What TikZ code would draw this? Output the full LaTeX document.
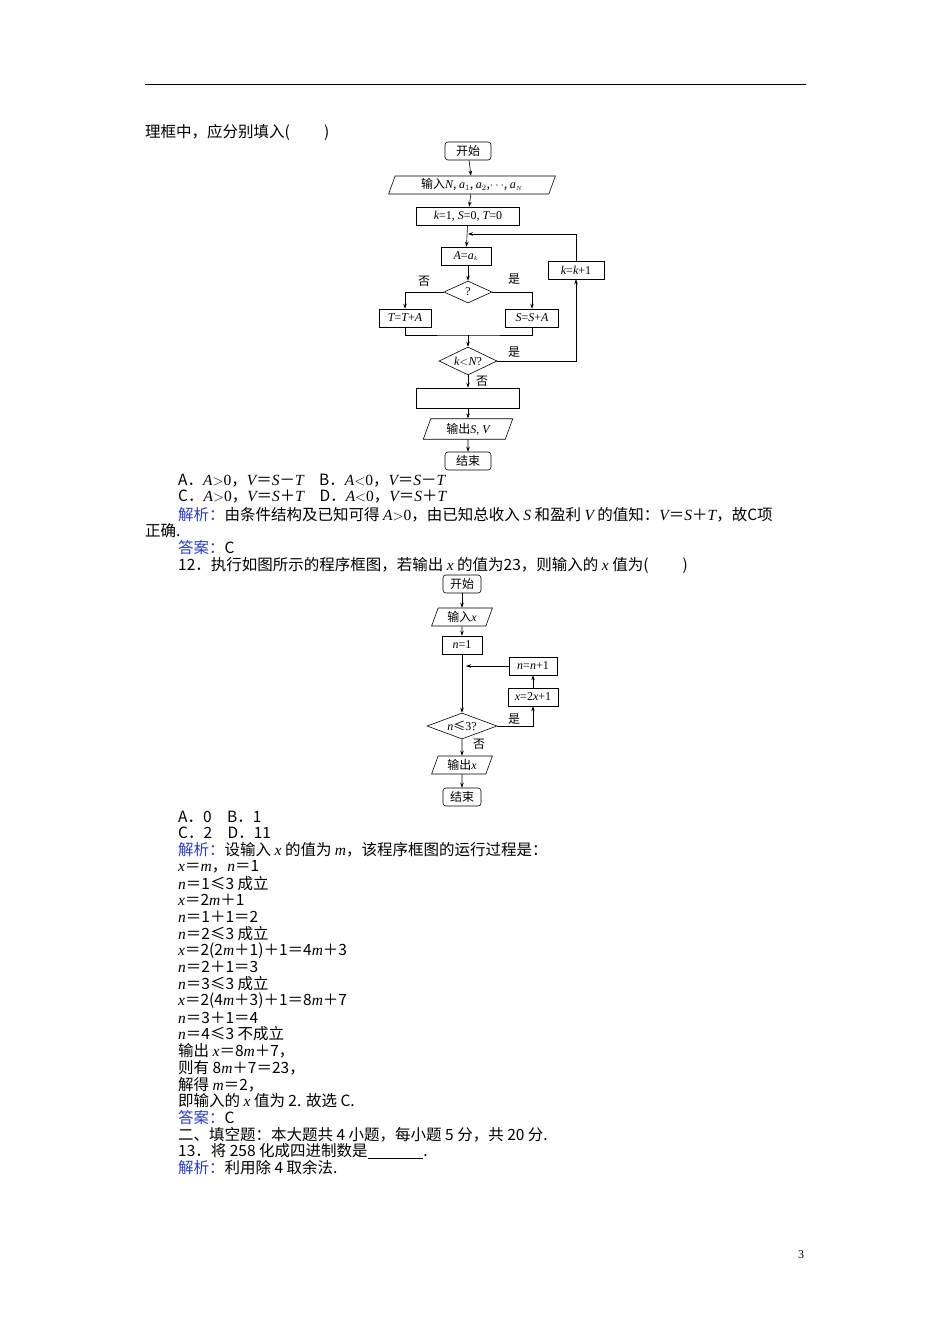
\documentclass[tikz,border=0pt]{standalone}
\usepackage{fontspec}
\setmainfont{Noto Sans CJK SC}
\newfontfamily\lsf{Liberation Serif}
\usetikzlibrary{shapes.geometric,arrows.meta}
\newcommand\vv[1]{{\lsf\itshape #1}}
\newcommand\rr[1]{{\lsf #1}}
\definecolor{jblue}{RGB}{40,60,200}
\begin{document}
\begin{tikzpicture}[x=1pt,y=-1pt,
  tl/.style={anchor=west,inner sep=0,font=\fontsize{15.5}{17}\selectfont},
  fc/.style={font=\fontsize{12}{13}\selectfont,inner sep=0},
  pbox/.style={fc,draw,line width=0.6pt,minimum height=18},
  rbox/.style={pbox,rounded corners=3pt},
  para/.style={fc,draw,line width=0.6pt,trapezium,trapezium left angle=70,trapezium right angle=110,minimum height=18},
  dia/.style={fc,draw,line width=0.6pt,diamond,aspect=2.2},
  ar/.style={line width=0.6pt,-{Stealth[length=5pt,width=3.5pt]}},
  ln/.style={line width=0.6pt}]
\useasboundingbox (0,0) rectangle (950,1344);
\fill[white] (0,0) rectangle (950,1344);
\draw[line width=0.7pt] (145,84) -- (806,84);
\node[tl] (t0) at (145,132) {理框中，应分别填入(\hspace{2.2em})};
% flowchart 1
\node[rbox,minimum width=46] (s1) at (468,151) {开始};
\node[para,minimum width=140,inner xsep=2pt] (in1) at (472,185) {输入\vv{N}, \vv{a}\rr{$_1$}, \vv{a}\rr{$_2$},\rr{$\cdots$}, \vv{a}$_{\scriptscriptstyle N}$};
\node[pbox,minimum width=103] (k1) at (468,216) {\vv{k}\rr{=1, }\vv{S}\rr{=0, }\vv{T}\rr{=0}};
\node[pbox,minimum width=50] (A) at (466,256) {\vv{A}\rr{=}\vv{a}$_{\scriptscriptstyle k}$};
\node[dia,minimum width=48,minimum height=22] (q) at (468,292) {\rr{?}};
\node[pbox,minimum width=52] (T) at (405,318) {\vv{T}\rr{=}\vv{T}\rr{+}\vv{A}};
\node[pbox,minimum width=53] (S) at (532,318) {\vv{S}\rr{=}\vv{S}\rr{+}\vv{A}};
\node[dia,minimum width=58,minimum height=28] (kn) at (468,361) {\vv{k}\rr{$<$}\vv{N}\rr{?}};
\node[pbox,minimum width=56] (kk) at (576,270) {\vv{k}\rr{=}\vv{k}\rr{+1}};
\node[pbox,minimum width=103,minimum height=20] (e) at (468,398) {};
\node[para,minimum width=90] (out1) at (468,429) {输出\vv{S}\rr{, }\vv{V}};
\node[rbox,minimum width=46] (end1) at (468,461) {结束};
\node[fc] (l1) at (424,281) {否};
\node[fc] (l2) at (514,279) {是};
\node[fc] (l3) at (514,352) {是};
\node[fc] (l4) at (482,381) {否};
\coordinate (j1) at (468,234);
\coordinate (m1) at (468,335);
\draw[ar] (s1) -- (in1);
\draw[ar] (in1) -- (k1);
\draw[ar] (k1) -- (A);
\draw[ar] (A.south -| q.north) -- (q);
\draw[ar] (q.west) -| (T.north);
\draw[ar] (q.east) -| (S.north);
\draw[ln] (T.south) |- (m1) -| (S.south);
\draw[ar] (m1) -- (kn.north);
\draw[ar] (kn.east) -| (kk.south);
\draw[ar] (kk.north) |- (j1);
\draw[ar] (kn.south) -- (e);
\draw[ar] (e) -- (out1);
\draw[ar] (out1) -- (end1);
% text
\node[tl] (a1) at (178,481) {A．\vv{A}\rr{$>$0}，\vv{V}＝\vv{S}－\vv{T}\quad B．\vv{A}\rr{$<$0}，\vv{V}＝\vv{S}－\vv{T}};
\node[tl] (a2) at (178,497) {C．\vv{A}\rr{$>$0}，\vv{V}＝\vv{S}＋\vv{T}\quad D．\vv{A}\rr{$<$0}，\vv{V}＝\vv{S}＋\vv{T}};
\node[tl] (a3) at (178,515) {\textcolor{jblue}{解析：}由条件结构及已知可得 \vv{A}\rr{$>$0}，由已知总收入 \vv{S} 和盈利 \vv{V} 的值知：\vv{V}＝\vv{S}＋\vv{T}，故C项};
\node[tl] (a4) at (145,531) {正确.};
\node[tl] (a5) at (178,548) {\textcolor{jblue}{答案：}C};
\node[tl] (a6) at (178,565) {12．执行如图所示的程序框图，若输出 \vv{x} 的值为23，则输入的 \vv{x} 值为(\hspace{2.2em})};
% flowchart 2
\node[rbox,minimum width=38] (s2) at (462,584) {开始};
\node[para,minimum width=56] (in2) at (462,617) {输入\vv{x}};
\node[pbox,minimum width=40] (n1) at (462,645) {\vv{n}\rr{=1}};
\node[pbox,minimum width=48] (nn) at (533,666) {\vv{n}\rr{=}\vv{n}\rr{+1}};
\node[pbox,minimum width=50] (xx) at (533,697) {\vv{x}\rr{=2}\vv{x}\rr{+1}};
\node[dia,minimum width=70,minimum height=26] (d2) at (462,726) {\vv{n}≤\rr{3?}};
\node[para,minimum width=54] (out2) at (462,765) {输出\vv{x}};
\node[rbox,minimum width=38] (end2) at (462,797) {结束};
\node[fc] (l5) at (514,719) {是};
\node[fc] (l6) at (479,744) {否};
\coordinate (j2) at (462,666);
\draw[ar] (s2) -- (in2);
\draw[ar] (in2) -- (n1);
\draw[ar] (n1) -- (d2.north);
\draw[ar] (d2.east) -| (xx.south);
\draw[ar] (xx) -- (nn);
\draw[ar] (nn.west) -- ([xshift=4]j2);
\draw[ar] (d2.south) -- (out2);
\draw[ar] (out2) -- (end2);
% solution text
\node[tl] (b1) at (178,817) {A．0\quad B．1};
\node[tl] (b2) at (178,833) {C．2\quad D．11};
\node[tl] (b3) at (178,850) {\textcolor{jblue}{解析：}设输入 \vv{x} 的值为 \vv{m}，该程序框图的运行过程是：};
\node[tl] (b4) at (178,867) {\vv{x}＝\vv{m}，\vv{n}＝1};
\node[tl] (b5) at (178,884) {\vv{n}＝1≤3 成立};
\node[tl] (b6) at (178,900) {\vv{x}＝2\vv{m}＋1};
\node[tl] (b7) at (178,917) {\vv{n}＝1＋1＝2};
\node[tl] (b8) at (178,934) {\vv{n}＝2≤3 成立};
\node[tl] (b9) at (178,951) {\vv{x}＝2(2\vv{m}＋1)＋1＝4\vv{m}＋3};
\node[tl] (b10) at (178,967) {\vv{n}＝2＋1＝3};
\node[tl] (b11) at (178,984) {\vv{n}＝3≤3 成立};
\node[tl] (b12) at (178,1001) {\vv{x}＝2(4\vv{m}＋3)＋1＝8\vv{m}＋7};
\node[tl] (b13) at (178,1018) {\vv{n}＝3＋1＝4};
\node[tl] (b14) at (178,1034) {\vv{n}＝4≤3 不成立};
\node[tl] (b15) at (178,1051) {输出 \vv{x}＝8\vv{m}＋7，};
\node[tl] (b16) at (178,1068) {则有 8\vv{m}＋7＝23，};
\node[tl] (b17) at (178,1085) {解得 \vv{m}＝2，};
\node[tl] (b18) at (178,1101) {即输入的 \vv{x} 值为 2. 故选 C.};
\node[tl] (b19) at (178,1118) {\textcolor{jblue}{答案：}C};
\node[tl] (b20) at (178,1135) {二、填空题：本大题共 4 小题，每小题 5 分，共 20 分.};
\node[tl] (b21) at (178,1151) {13．将 258 化成四进制数是\rule[-2pt]{3.6em}{0.5pt}.};
\node[tl] (b22) at (178,1168) {\textcolor{jblue}{解析：}利用除 4 取余法.};
\node[font=\fontsize{12}{14}\selectfont\lsf,inner sep=0] (pg) at (801,1255) {3};
\end{tikzpicture}
\end{document}
